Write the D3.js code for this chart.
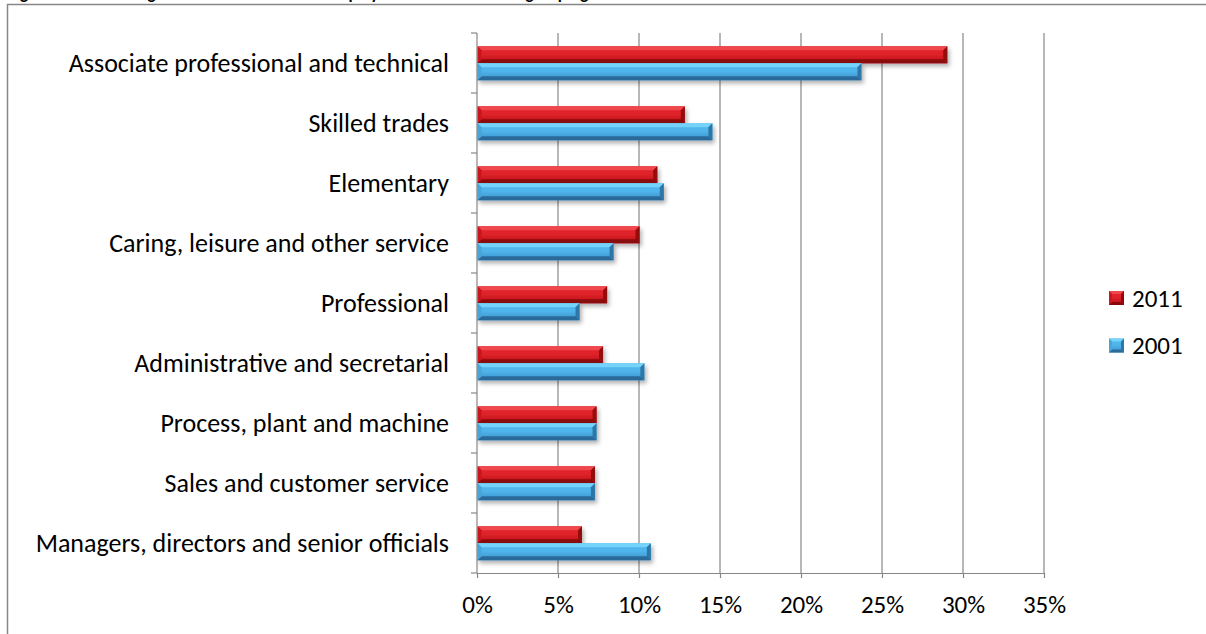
<!DOCTYPE html>
<html>
<head>
<meta charset="utf-8">
<script src="https://cdn.jsdelivr.net/npm/d3@7"></script>
<style>
  body { margin: 0; background: #fff; }
  text { font-family: Carlito, Lato, "Liberation Sans", sans-serif; }
</style>
</head>
<body>
<div class="chart"></div>
<script>
// categories top to bottom, values in percent
var categories = [
  "Associate professional and technical",
  "Skilled trades",
  "Elementary",
  "Caring, leisure and other service",
  "Professional",
  "Administrative and secretarial",
  "Process, plant and machine",
  "Sales and customer service",
  "Managers, directors and senior officials"
];
var values2011 = [29.0, 12.8, 11.1, 10.0, 8.0, 7.75, 7.35, 7.25, 6.45];
var values2001 = [23.7, 14.5, 11.5, 8.4, 6.3, 10.3, 7.35, 7.25, 10.7];
var seriesNames = ["2011", "2001"];
var xTicks = [0, 5, 10, 15, 20, 25, 30, 35];
var titleText = "Figure 2.4: Percentage of the total workforce employed within each main grouping";

var svgWidth = 1206;
var svgHeight = 634;
var margin = { top: 33, left: 477, right: 162, bottom: 61 };
var width = svgWidth - margin.left - margin.right;
var height = svgHeight - margin.top - margin.bottom;

var svg = d3.select(".chart")
  .append("svg")
  .attr("width", svgWidth)
  .attr("height", svgHeight);

// colour sets for the bevelled bars
var palette = {
  "2011": { top: "#f0474d", face1: "#e0232a", face2: "#b50f17", bottom: "#8a070b", left: "#c9181f", right: "#93080d" },
  "2001": { top: "#74d3fb", face1: "#50b5eb", face2: "#3b91ca", bottom: "#2a6b9b", left: "#49a4d8", right: "#2e76a6" }
};

var defs = svg.append("defs");
defs.append("filter")
  .attr("id", "shadow")
  .attr("x", "-5%").attr("y", "-40%")
  .attr("width", "115%").attr("height", "200%")
  .append("feDropShadow")
  .attr("dx", 2).attr("dy", 3)
  .attr("stdDeviation", 2)
  .attr("flood-color", "#000")
  .attr("flood-opacity", 0.3);

seriesNames.forEach(function(s) {
  var g = defs.append("linearGradient")
    .attr("id", "face" + s)
    .attr("x1", 0).attr("y1", 0).attr("x2", 0).attr("y2", 1);
  g.append("stop").attr("offset", "0%").attr("stop-color", palette[s].face1);
  g.append("stop").attr("offset", "45%").attr("stop-color", palette[s].face1);
  g.append("stop").attr("offset", "100%").attr("stop-color", palette[s].face2);
});

// chart area border (runs off the page at right and bottom)
svg.append("rect")
  .attr("x", 7.5).attr("y", 4.5)
  .attr("width", 1300).attr("height", 700)
  .attr("fill", "none")
  .attr("stroke", "#878787")
  .attr("stroke-width", 1.5);

// title, clipped by the top of the page
svg.append("text")
  .attr("x", 8)
  .attr("y", -1.5)
  .attr("font-size", 17)
  .attr("font-weight", "bold")
  .text(titleText);

var chartGroup = svg.append("g")
  .attr("transform", `translate(${margin.left}, ${margin.top})`);

// scales
var xScale = d3.scaleLinear().domain([0, 35]).range([0, width]);
var yScale = d3.scaleBand().domain(categories).range([0, height]).padding(0);
var ySeries = d3.scaleBand().domain(seriesNames)
  .range([yScale.bandwidth() * 0.222, yScale.bandwidth() * 0.788]);

// gridlines
chartGroup.append("g")
  .selectAll("line")
  .data(xTicks.slice(1))
  .enter()
  .append("line")
  .attr("x1", d => xScale(d)).attr("x2", d => xScale(d))
  .attr("y1", 0).attr("y2", height)
  .attr("stroke", "#878787")
  .attr("stroke-width", 1.2);

// bars
var rows = [];
categories.forEach(function(c, i) {
  rows.push({ cat: c, series: "2011", value: values2011[i] });
  rows.push({ cat: c, series: "2001", value: values2001[i] });
});

function bevelBar(sel, x0, y0, w, h, s, b) {
  var x1 = x0 + w, y1 = y0 + h;
  var p = palette[s];
  var g = sel.append("g").attr("filter", "url(#shadow)");
  g.append("rect").attr("x", x0).attr("y", y0).attr("width", w).attr("height", h)
    .attr("fill", "url(#face" + s + ")");
  g.append("polygon")
    .attr("points", [[x0, y0], [x1, y0], [x1 - b, y0 + b], [x0 + b, y0 + b]].join(" "))
    .attr("fill", p.top);
  g.append("polygon")
    .attr("points", [[x0, y1], [x1, y1], [x1 - b, y1 - b], [x0 + b, y1 - b]].join(" "))
    .attr("fill", p.bottom);
  g.append("polygon")
    .attr("points", [[x0, y0], [x0 + b, y0 + b], [x0 + b, y1 - b], [x0, y1]].join(" "))
    .attr("fill", p.left);
  g.append("polygon")
    .attr("points", [[x1, y0], [x1 - b, y0 + b], [x1 - b, y1 - b], [x1, y1]].join(" "))
    .attr("fill", p.right);
}

var barsGroup = chartGroup.append("g");
rows.forEach(function(d) {
  var y = yScale(d.cat) + ySeries(d.series);
  bevelBar(barsGroup, xScale(0) + 0.5, y, xScale(d.value) - xScale(0), ySeries.bandwidth(), d.series, 4);
});

// x axis
var xAxis = d3.axisBottom(xScale)
  .tickValues(xTicks)
  .tickFormat(d => d + "%")
  .tickSize(5)
  .tickPadding(17)
  .tickSizeOuter(0);
var xAxisG = chartGroup.append("g")
  .attr("transform", `translate(0, ${height})`)
  .call(xAxis);
xAxisG.select(".domain").attr("stroke", "#878787").attr("stroke-width", 1.2);
xAxisG.selectAll(".tick line").attr("stroke", "#878787").attr("stroke-width", 1.2);
xAxisG.selectAll("text").attr("font-size", 25).attr("fill", "#000")
  .style("font-family", "Carlito, Lato, sans-serif");

// y axis: line, boundary ticks, labels
chartGroup.append("line")
  .attr("x1", 0).attr("x2", 0).attr("y1", 0).attr("y2", height)
  .attr("stroke", "#878787").attr("stroke-width", 1.2);
chartGroup.append("line")
  .attr("x1", -6).attr("x2", 0).attr("y1", height).attr("y2", height)
  .attr("stroke", "#878787").attr("stroke-width", 1.2);
chartGroup.append("g")
  .selectAll("line")
  .data(categories)
  .enter()
  .append("line")
  .attr("x1", -6).attr("x2", 0)
  .attr("y1", d => yScale(d)).attr("y2", d => yScale(d))
  .attr("stroke", "#878787").attr("stroke-width", 1.2);
chartGroup.append("g")
  .selectAll("text")
  .data(categories)
  .enter()
  .append("text")
  .attr("x", -28)
  .attr("y", d => yScale(d) + yScale.bandwidth() / 2)
  .attr("dy", "0.35em")
  .attr("text-anchor", "end")
  .attr("font-size", 26)
  .text(d => d);

// legend
var legend = svg.append("g").attr("transform", "translate(1109, 291)");
seriesNames.forEach(function(s, i) {
  var lg = legend.append("g").attr("transform", `translate(0, ${i * 47.5})`);
  bevelBar(lg, 0, 0, 15, 14, s, 3);
  lg.select("g").attr("filter", null);
  lg.append("text")
    .attr("x", 23).attr("y", 7)
    .attr("dy", "0.35em")
    .attr("font-size", 25)
    .text(s);
});
</script>
</body>
</html>
